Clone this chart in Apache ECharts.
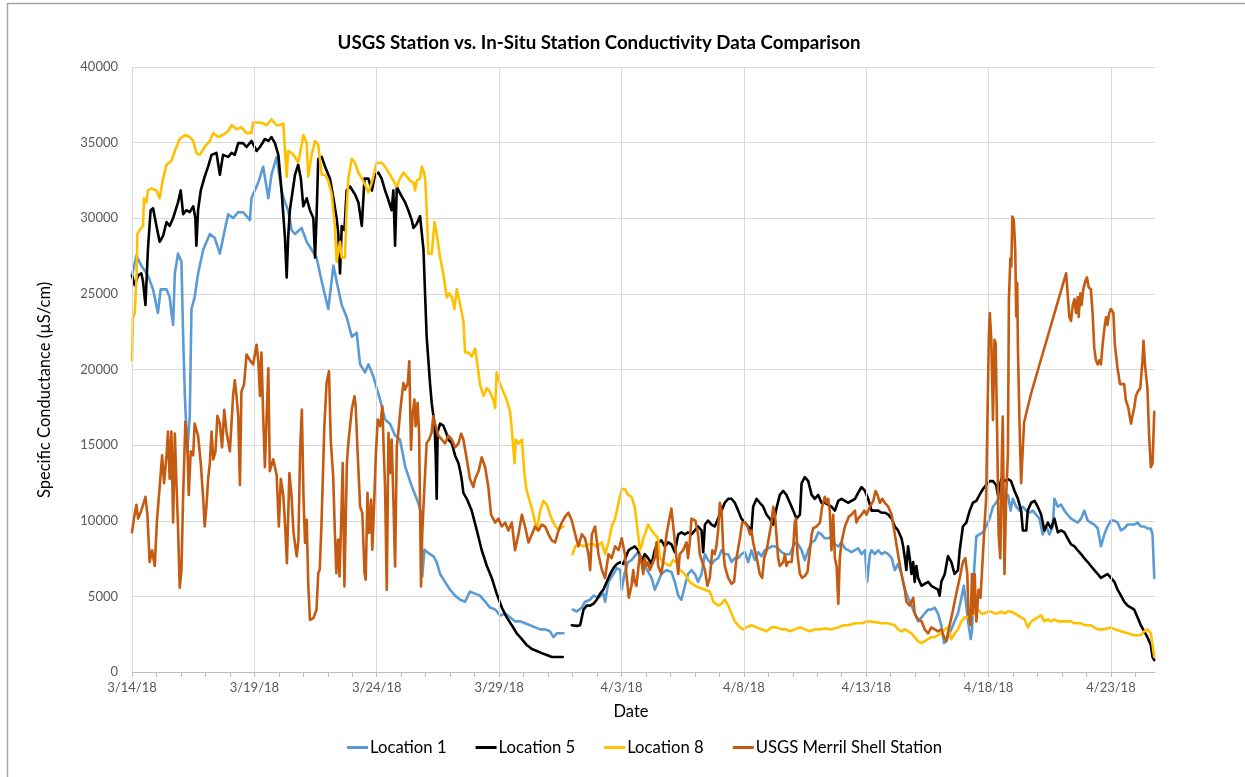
<!DOCTYPE html>
<html>
<head>
<meta charset="utf-8">
<script src="https://cdn.jsdelivr.net/npm/echarts@6/dist/echarts.min.js"></script>
<style>
html,body{margin:0;padding:0;background:#fff;}
#chart{width:1245px;height:777px;}
</style>
</head>
<body>
<div id="chart"></div>
<script>
// ---- Labels / ticks ----
const chartTitle = 'USGS Station vs. In-Situ Station Conductivity Data Comparison';
const yAxisTitle = 'Specific Conductance (\u00B5S/cm)';
const xAxisTitle = 'Date';
const seriesNames = ['Location 1', 'Location 5', 'Location 8', 'USGS Merril Shell Station'];
const seriesColors = ['#5B9BD5', '#000000', '#FFC000', '#C55A11'];
const startDate = [2018, 2, 14];            // 3/14/18 = day 0
const xGridDays = [0, 5, 10, 15, 20, 25, 30, 35, 40];
const xMaxDay = 41.8;
const yTicks = [0, 5000, 10000, 15000, 20000, 25000, 30000, 35000, 40000];

// ---- Series data: [days since 3/14/18, specific conductance uS/cm] ----
const location1 = [[0.00,26220],[0.18,27530],[0.38,26870],[0.65,26220],[0.86,25300],[1.06,23740],[1.17,25300],[1.41,25300],[1.54,24780],[1.61,23740],[1.68,22950],[1.75,26350],[1.88,27660],[2.02,27130],[2.09,22170],[2.16,18250],[2.26,14590],[2.36,16940],[2.43,24000],[2.56,24780],[2.70,26350],[2.91,27920],[3.18,28960],[3.38,28700],[3.59,27660],[3.79,29220],[3.93,30270],[4.13,30010],[4.34,30400],[4.54,30400],[4.82,29880],[4.88,31320],[5.16,32360],[5.36,33410],[5.57,31320],[5.70,32880],[5.91,34060],[6.11,31840],[6.25,31050],[6.38,30530],[6.52,29220],[6.66,28960],[6.93,29360],[7.14,28440],[7.34,27920],[7.54,27400],[7.75,25830],[8.02,24000],[8.23,26870],[8.36,25830],[8.57,24260],[8.77,23470],[8.98,22170],[9.18,22430],[9.32,20340],[9.52,19810],[9.66,20340],[9.86,19550],[10.14,17980],[10.34,16690],[10.54,16420],[10.75,15630],[10.95,15370],[11.16,13600],[11.43,12280],[11.70,11170],[11.81,10510],[11.86,6320],[11.95,8090],[12.11,7870],[12.32,7640],[12.45,7270],[12.59,6480],[12.79,5960],[13.00,5440],[13.20,5050],[13.41,4780],[13.61,4650],[13.81,5310],[14.02,5180],[14.22,5050],[14.43,4650],[14.63,4260],[14.84,4130],[15.04,3740],[15.25,3870],[15.45,3610],[15.65,3350],[15.86,3350],[16.06,3220],[16.27,3090],[16.47,2950],[16.68,2820],[16.88,2820],[17.08,2690],[17.22,2300],[17.36,2560],[17.49,2560],[17.63,2560],[17.80,null],[18.01,4130],[18.17,4000],[18.38,4260],[18.51,4650],[18.72,4780],[18.86,5050],[19.06,4910],[19.26,5180],[19.33,4650],[19.47,5960],[19.67,6480],[19.81,6870],[19.95,6740],[20.01,5440],[20.12,6480],[20.27,7270],[20.41,7400],[20.54,7660],[20.68,7920],[20.82,7530],[20.95,7010],[21.23,6220],[21.36,5440],[21.50,5960],[21.63,6480],[21.84,6740],[22.04,6610],[22.18,5960],[22.32,5050],[22.45,4780],[22.59,5700],[22.72,6480],[22.86,6740],[23.00,6480],[23.13,5960],[23.27,6480],[23.41,7790],[23.54,7400],[23.68,7140],[23.81,7400],[23.95,7530],[24.09,8050],[24.22,7790],[24.36,7790],[24.50,7270],[24.63,7530],[24.77,7530],[24.90,7790],[25.04,7920],[25.18,7270],[25.31,8050],[25.45,7400],[25.59,7920],[25.72,7660],[25.86,8050],[26.00,8180],[26.13,8310],[26.27,8310],[26.40,8180],[26.54,7920],[26.68,7790],[26.88,7790],[27.08,8570],[27.22,8440],[27.36,8050],[27.49,7400],[27.63,8050],[27.77,8570],[27.90,8700],[28.04,9230],[28.17,9100],[28.31,8840],[28.45,8840],[28.58,8970],[28.72,8440],[28.86,8310],[28.99,8570],[29.13,8180],[29.26,8050],[29.40,7920],[29.54,8050],[29.67,8180],[29.81,7790],[29.95,8050],[30.04,5960],[30.15,7790],[30.22,8050],[30.35,7790],[30.49,8050],[30.63,7790],[30.76,7920],[30.90,7790],[31.04,7530],[31.17,6740],[31.30,7140],[31.44,6480],[31.58,5440],[31.71,4910],[31.85,4390],[31.98,3870],[32.12,3350],[32.26,3610],[32.39,3870],[32.53,4130],[32.66,4130],[32.80,4260],[32.93,3870],[33.07,3090],[33.18,1910],[33.27,2040],[33.34,2300],[33.48,2820],[33.61,3350],[33.75,3870],[33.89,4910],[33.99,5700],[34.09,4390],[34.16,3350],[34.27,2170],[34.33,2820],[34.40,6480],[34.50,8970],[34.63,9100],[34.77,9230],[34.90,9620],[35.04,10140],[35.18,10930],[35.31,11190],[35.45,11580],[35.54,11970],[35.65,11450],[35.79,11710],[35.90,10670],[35.99,11450],[36.13,10930],[36.26,10670],[36.40,10930],[36.54,10670],[36.67,10530],[36.81,10670],[36.94,10400],[37.08,10140],[37.21,9100],[37.35,9620],[37.49,9100],[37.62,9620],[37.69,11450],[37.83,10930],[37.96,11060],[38.10,10670],[38.23,10400],[38.37,10140],[38.51,10010],[38.64,9880],[38.78,10140],[38.91,10670],[39.05,10010],[39.18,9880],[39.32,9750],[39.46,9490],[39.59,8310],[39.73,9100],[39.86,9620],[40.00,10010],[40.14,10010],[40.27,9880],[40.41,9360],[40.54,9490],[40.68,9750],[40.82,9750],[40.95,9750],[41.09,9880],[41.22,9620],[41.36,9620],[41.49,9490],[41.63,9490],[41.70,9100],[41.77,6220]];

const location5 = [[0.00,26220],[0.11,25570],[0.25,26220],[0.38,26350],[0.45,25830],[0.55,24260],[0.65,27920],[0.76,30530],[0.86,30660],[1.00,29490],[1.13,28440],[1.27,28830],[1.41,29750],[1.54,29490],[1.68,30010],[1.88,31050],[1.99,31840],[2.09,30270],[2.22,30530],[2.36,30400],[2.50,30790],[2.59,30010],[2.63,28180],[2.70,30530],[2.81,31840],[2.97,32750],[3.11,33410],[3.25,34190],[3.45,34320],[3.59,32880],[3.72,34190],[3.93,34060],[4.07,34320],[4.20,34190],[4.34,34970],[4.54,34970],[4.68,34710],[4.88,35110],[5.09,34450],[5.23,34710],[5.43,35240],[5.57,35110],[5.70,35370],[5.84,34970],[5.98,34190],[6.11,31840],[6.25,28700],[6.32,26090],[6.38,28700],[6.45,30530],[6.66,32880],[6.79,33540],[6.90,32620],[7.00,30790],[7.14,31320],[7.27,30530],[7.41,30010],[7.48,27400],[7.54,30010],[7.61,33930],[7.75,34060],[7.89,33410],[8.09,32620],[8.23,31320],[8.36,30010],[8.43,28960],[8.50,26350],[8.57,29490],[8.68,29220],[8.77,31840],[8.91,32100],[9.11,31580],[9.25,31050],[9.39,29490],[9.50,32620],[9.66,32620],[9.80,31840],[9.93,32880],[10.07,33010],[10.20,32620],[10.34,31840],[10.48,31190],[10.61,30530],[10.68,31840],[10.75,28180],[10.82,32100],[10.89,31840],[11.02,31450],[11.16,31050],[11.29,30530],[11.43,29880],[11.50,29360],[11.63,29620],[11.77,30140],[11.84,30270],[11.91,27920],[11.98,24780],[12.04,22170],[12.11,20600],[12.18,19030],[12.25,17720],[12.36,16420],[12.41,14320],[12.45,11450],[12.49,15890],[12.59,16420],[12.72,16290],[12.82,15890],[12.93,15370],[13.07,15110],[13.20,14320],[13.34,13800],[13.41,13280],[13.47,12760],[13.54,11840],[13.68,11450],[13.88,10670],[14.09,9360],[14.29,8050],[14.50,7010],[14.70,6220],[14.90,5180],[15.11,4260],[15.31,3610],[15.52,3090],[15.72,2560],[15.93,2170],[16.13,1780],[16.34,1520],[16.54,1390],[16.74,1250],[16.95,1120],[17.15,990],[17.36,990],[17.60,990],[17.80,null],[17.97,3090],[18.17,3050],[18.31,3090],[18.38,3610],[18.45,4130],[18.58,4390],[18.72,4390],[18.86,4520],[18.99,4780],[19.13,5180],[19.26,5440],[19.40,5960],[19.54,6480],[19.67,6870],[19.81,7140],[19.95,7270],[20.08,7140],[20.18,7600],[20.29,8050],[20.41,8180],[20.54,8310],[20.68,8050],[20.82,7270],[20.95,7790],[21.09,7530],[21.23,7140],[21.36,8050],[21.50,8570],[21.63,8700],[21.77,8310],[21.91,8570],[22.04,8440],[22.18,7920],[22.32,9100],[22.45,9230],[22.59,9100],[22.72,9230],[22.86,9100],[23.00,9360],[23.13,9620],[23.27,9360],[23.34,7920],[23.41,9750],[23.54,10010],[23.68,9750],[23.81,9620],[23.95,10140],[24.09,10670],[24.22,11190],[24.36,11450],[24.50,11450],[24.63,11190],[24.77,10670],[24.90,10140],[25.04,9880],[25.18,9620],[25.31,9360],[25.38,10930],[25.52,11450],[25.65,11190],[25.79,10930],[25.93,10400],[26.06,10140],[26.20,9750],[26.33,10800],[26.47,11710],[26.61,11970],[26.74,11710],[26.88,11190],[27.02,10670],[27.15,10140],[27.29,10400],[27.36,12490],[27.49,12890],[27.63,12620],[27.77,11710],[27.90,11450],[28.04,11710],[28.17,11190],[28.31,11190],[28.45,11060],[28.58,10930],[28.72,10670],[28.86,11320],[28.99,11450],[29.13,11320],[29.26,11190],[29.40,11320],[29.54,11450],[29.67,11840],[29.81,12230],[29.95,11970],[30.08,11450],[30.22,10670],[30.35,10670],[30.49,10670],[30.63,10530],[30.76,10530],[30.90,10400],[31.04,10140],[31.17,9620],[31.30,9360],[31.44,8840],[31.51,8310],[31.58,7530],[31.64,6740],[31.71,8310],[31.78,7530],[31.85,6480],[31.92,7270],[31.98,5960],[32.05,7010],[32.12,6220],[32.26,5700],[32.39,5830],[32.53,5960],[32.66,5700],[32.80,5570],[32.93,5440],[33.00,5050],[33.07,5960],[33.21,6480],[33.34,7660],[33.48,7270],[33.61,6480],[33.75,6740],[33.82,8050],[33.95,9620],[34.09,9880],[34.23,10670],[34.36,11190],[34.50,11320],[34.63,11710],[34.77,12100],[34.90,12360],[35.04,12620],[35.18,12620],[35.31,12360],[35.38,11710],[35.52,12760],[35.65,12620],[35.79,12760],[35.92,12620],[36.06,11970],[36.20,11450],[36.33,10670],[36.40,9360],[36.54,9360],[36.60,10670],[36.74,11190],[36.88,11320],[37.01,10930],[37.15,10400],[37.28,9360],[37.42,9880],[37.55,9490],[37.69,10140],[37.83,9230],[37.96,9360],[38.10,9230],[38.23,8840],[38.37,8440],[38.51,8310],[38.64,8050],[38.78,7790],[38.91,7530],[39.05,7270],[39.18,7010],[39.32,6740],[39.46,6480],[39.59,6220],[39.73,6350],[39.86,6480],[40.00,6220],[40.14,5960],[40.27,5440],[40.41,5050],[40.54,4650],[40.68,4390],[40.82,4260],[40.95,4130],[41.09,3610],[41.22,3090],[41.36,2690],[41.49,2300],[41.63,1780],[41.70,990],[41.77,780]];

const location8 = [[0.00,20600],[0.04,23470],[0.11,23740],[0.18,25830],[0.22,28960],[0.31,29220],[0.45,29490],[0.49,31320],[0.59,31050],[0.65,31840],[0.79,31970],[1.00,31840],[1.13,31320],[1.27,32620],[1.41,33540],[1.61,33800],[1.75,34450],[1.95,35240],[2.16,35500],[2.36,35370],[2.50,35110],[2.63,34320],[2.77,34190],[2.97,34710],[3.18,35110],[3.32,35630],[3.52,35370],[3.72,35500],[3.93,35760],[4.07,36150],[4.27,35890],[4.47,36020],[4.68,35630],[4.88,35630],[4.95,36330],[5.16,36330],[5.36,36280],[5.50,36150],[5.70,36540],[5.91,36150],[6.04,36150],[6.18,36280],[6.25,36280],[6.32,32750],[6.38,34450],[6.52,34320],[6.66,34060],[6.79,33670],[6.93,34840],[7.00,35500],[7.14,34970],[7.20,32750],[7.34,34190],[7.48,35110],[7.61,34840],[7.75,32880],[7.89,32880],[8.02,32490],[8.16,31580],[8.29,29490],[8.36,27130],[8.50,28440],[8.57,27400],[8.70,27400],[8.77,30530],[8.84,32620],[8.98,33930],[9.11,33670],[9.25,33010],[9.39,32620],[9.52,32230],[9.66,31710],[9.80,32360],[10.00,33670],[10.20,33670],[10.34,33410],[10.54,32880],[10.68,32490],[10.82,32100],[10.95,32620],[11.09,33010],[11.23,32750],[11.36,32490],[11.50,32360],[11.57,31840],[11.63,32490],[11.77,32620],[11.84,33410],[11.91,33150],[11.98,32620],[12.04,30530],[12.11,27660],[12.25,27660],[12.36,29750],[12.45,28960],[12.59,27400],[12.72,26350],[12.86,24780],[12.96,25040],[13.07,24780],[13.17,24000],[13.27,25300],[13.41,24260],[13.54,23210],[13.61,21120],[13.75,21120],[13.88,20860],[14.02,21380],[14.09,20600],[14.22,19030],[14.36,18250],[14.50,18770],[14.63,18510],[14.77,17980],[14.84,17460],[14.90,19810],[15.04,19030],[15.18,18510],[15.31,17980],[15.45,17200],[15.54,15630],[15.63,13800],[15.68,15370],[15.79,15110],[15.93,15370],[16.04,13020],[16.13,11970],[16.27,11190],[16.40,10400],[16.54,9360],[16.68,10670],[16.81,11320],[16.95,11060],[17.08,10400],[17.22,9880],[17.36,9490],[17.49,9490],[17.63,9620],[17.80,null],[18.00,7790],[18.11,8310],[18.24,8440],[18.45,8310],[18.65,8440],[18.86,8440],[18.99,8310],[19.20,8570],[19.33,7790],[19.47,8570],[19.60,9620],[19.74,10140],[19.88,11190],[20.01,12100],[20.14,12100],[20.27,11710],[20.41,11580],[20.54,10930],[20.68,9100],[20.75,8050],[20.82,8310],[20.89,8840],[20.95,9100],[21.09,9750],[21.23,9360],[21.36,9100],[21.50,8840],[21.57,7530],[21.70,7270],[21.84,7140],[21.98,7010],[22.11,7400],[22.25,7270],[22.38,6740],[22.59,6480],[22.79,5960],[23.00,5700],[23.20,5570],[23.41,5440],[23.61,5310],[23.75,4650],[23.95,4390],[24.09,4520],[24.22,4780],[24.36,4390],[24.50,3870],[24.63,3350],[24.84,2950],[24.97,2820],[25.11,2950],[25.31,3090],[25.52,2950],[25.72,2820],[25.93,2690],[26.13,2950],[26.33,2950],[26.54,2820],[26.74,2820],[26.88,2690],[27.08,2820],[27.29,2950],[27.49,2820],[27.70,2690],[27.90,2820],[28.11,2820],[28.31,2880],[28.58,2820],[28.86,2950],[29.06,3090],[29.26,3090],[29.54,3220],[29.81,3220],[30.08,3350],[30.35,3300],[30.63,3220],[30.90,3220],[31.17,3090],[31.30,2820],[31.44,2690],[31.58,2820],[31.71,2690],[31.85,2560],[31.98,2300],[32.12,2040],[32.26,1910],[32.39,2040],[32.53,2170],[32.66,2300],[32.80,2300],[32.93,2430],[33.07,2560],[33.21,2820],[33.34,2950],[33.48,2170],[33.61,2560],[33.75,2820],[33.89,3350],[34.02,3610],[34.16,3610],[34.30,3740],[34.43,3870],[34.57,4130],[34.70,3870],[34.84,3870],[34.97,4000],[35.11,4000],[35.24,3870],[35.38,3870],[35.52,4000],[35.65,3870],[35.79,4000],[35.92,4000],[36.06,3870],[36.20,3740],[36.33,3610],[36.47,3480],[36.60,2950],[36.74,3350],[36.88,3480],[37.01,3610],[37.15,3740],[37.28,3350],[37.42,3480],[37.55,3350],[37.69,3480],[37.83,3350],[38.10,3350],[38.37,3350],[38.51,3220],[38.78,3220],[38.91,3090],[39.18,3090],[39.32,2950],[39.46,2820],[39.73,2820],[40.00,2950],[40.14,2820],[40.41,2690],[40.68,2560],[40.95,2430],[41.22,2430],[41.36,2690],[41.49,2820],[41.63,2560],[41.70,1780],[41.77,990]];

const usgsMerrilShell = [[0.00,9230],[0.08,10140],[0.18,11060],[0.25,10140],[0.38,10670],[0.55,11580],[0.63,10400],[0.72,7270],[0.82,8050],[0.93,7010],[1.02,10010],[1.13,12230],[1.23,14320],[1.31,12490],[1.41,14320],[1.47,15890],[1.54,12760],[1.61,15890],[1.68,9880],[1.75,15760],[1.81,12760],[1.88,9620],[1.95,5570],[2.02,6740],[2.09,11710],[2.18,16550],[2.26,15110],[2.32,11710],[2.40,14590],[2.50,14320],[2.56,16420],[2.70,15630],[2.81,13800],[2.91,11450],[2.97,9620],[3.04,10930],[3.11,12760],[3.18,13800],[3.25,15890],[3.32,14060],[3.41,14590],[3.49,16940],[3.59,16420],[3.68,14850],[3.77,17330],[3.86,15890],[4.00,14590],[4.13,18250],[4.20,19290],[4.27,18250],[4.34,16940],[4.41,12360],[4.47,18510],[4.58,19030],[4.68,20990],[4.82,20600],[4.95,20340],[5.09,21640],[5.16,20600],[5.23,18250],[5.29,21120],[5.36,16940],[5.43,13540],[5.57,20080],[5.63,13280],[5.77,14060],[5.91,13020],[6.00,9620],[6.08,12760],[6.18,11710],[6.26,9630],[6.33,7200],[6.43,13160],[6.51,11840],[6.60,9190],[6.73,7640],[6.80,8750],[6.87,14700],[6.94,17350],[7.01,11400],[7.07,8530],[7.14,10070],[7.20,5880],[7.27,3450],[7.41,3560],[7.54,4110],[7.61,6540],[7.67,6760],[7.74,9630],[7.86,16250],[7.95,19110],[8.05,19890],[8.12,15370],[8.22,12940],[8.29,9190],[8.35,6540],[8.42,8750],[8.48,6320],[8.55,10070],[8.61,13820],[8.68,5660],[8.78,13820],[8.84,15140],[8.98,17350],[9.09,18230],[9.14,17570],[9.22,14480],[9.32,10950],[9.41,10510],[9.50,6540],[9.55,6100],[9.62,11840],[9.69,9190],[9.77,11400],[9.82,8090],[9.90,11400],[9.96,14260],[10.04,16690],[10.14,16250],[10.23,17570],[10.29,14480],[10.34,12280],[10.41,5440],[10.48,15810],[10.54,13160],[10.61,15370],[10.68,11400],[10.75,6980],[10.82,14920],[10.88,15810],[10.98,17570],[11.09,19110],[11.16,18670],[11.27,19110],[11.33,20550],[11.40,14700],[11.46,16910],[11.54,18010],[11.59,16250],[11.67,17790],[11.73,15810],[11.77,10950],[11.81,5660],[11.86,9190],[11.95,12280],[12.04,15140],[12.14,15370],[12.24,15810],[12.31,16910],[12.38,16420],[12.52,15630],[12.66,15370],[12.79,15110],[12.93,15630],[13.07,15370],[13.20,14850],[13.34,15110],[13.45,15760],[13.54,15370],[13.68,14060],[13.81,12760],[13.95,12230],[14.02,12760],[14.16,13280],[14.29,14190],[14.43,13540],[14.56,12230],[14.67,10400],[14.84,9880],[14.97,10140],[15.11,9620],[15.25,9880],[15.38,9360],[15.52,9880],[15.65,8050],[15.79,9100],[15.93,10400],[16.06,9620],[16.20,8570],[16.34,9100],[16.47,9620],[16.61,9360],[16.74,9750],[16.88,9620],[17.02,9100],[17.15,8700],[17.29,8570],[17.43,9360],[17.56,9880],[17.70,10270],[17.83,10530],[17.97,10010],[18.11,9100],[18.24,8310],[18.38,9100],[18.51,8840],[18.65,7790],[18.72,6740],[18.79,9100],[18.92,9620],[19.06,7790],[19.20,6740],[19.33,6220],[19.47,7790],[19.60,7530],[19.74,8310],[19.88,8050],[20.01,8840],[20.14,7790],[20.20,6480],[20.30,4910],[20.41,5700],[20.48,6740],[20.54,5960],[20.61,5700],[20.68,6740],[20.75,7790],[20.82,7270],[20.89,6480],[20.95,7530],[21.02,7010],[21.09,7270],[21.16,6740],[21.23,7010],[21.36,7530],[21.43,8570],[21.50,7010],[21.63,6480],[21.77,8050],[21.84,9100],[21.93,9880],[22.04,10800],[22.15,9100],[22.25,7530],[22.32,6480],[22.38,7790],[22.52,8050],[22.66,8570],[22.72,7530],[22.79,8570],[22.86,10140],[22.93,10270],[23.02,10010],[23.13,9100],[23.20,7790],[23.30,7270],[23.41,6740],[23.51,5700],[23.61,6220],[23.71,8050],[23.81,7790],[23.88,8310],[23.95,9360],[24.02,11190],[24.09,10670],[24.16,8050],[24.22,7010],[24.36,6220],[24.50,5830],[24.60,5960],[24.70,7530],[24.84,8840],[24.93,9880],[25.04,9880],[25.15,9620],[25.25,9100],[25.31,9360],[25.38,8570],[25.45,8050],[25.56,7270],[25.65,6480],[25.75,6220],[25.83,7530],[25.93,8050],[26.02,8840],[26.13,9880],[26.20,10930],[26.27,10400],[26.33,9100],[26.40,7530],[26.47,7010],[26.61,7270],[26.68,7790],[26.74,7010],[26.81,7270],[26.95,7270],[27.02,8310],[27.08,9880],[27.13,10140],[27.19,7790],[27.29,6480],[27.38,6220],[27.49,6350],[27.60,6610],[27.70,8050],[27.77,9100],[27.83,9490],[27.97,9620],[28.11,9880],[28.20,10930],[28.31,11580],[28.38,11190],[28.45,11450],[28.51,10670],[28.58,8050],[28.65,10400],[28.72,7530],[28.79,7010],[28.86,4520],[28.92,7530],[28.99,8570],[29.06,9100],[29.13,9620],[29.20,9750],[29.29,10270],[29.40,10400],[29.54,10670],[29.60,9880],[29.67,10140],[29.81,10400],[29.92,10670],[30.01,10400],[30.15,10930],[30.29,11320],[30.38,11970],[30.46,11710],[30.56,11190],[30.65,11450],[30.76,11190],[30.90,10930],[31.04,10400],[31.17,9100],[31.30,7790],[31.44,6480],[31.58,5440],[31.64,4650],[31.78,4390],[31.92,4910],[31.98,3870],[32.12,3480],[32.26,3350],[32.39,2820],[32.53,2560],[32.66,2950],[32.80,2820],[32.93,2690],[33.07,2820],[33.18,2300],[33.27,2040],[33.41,3090],[33.55,4130],[33.68,5180],[33.82,6220],[33.95,7270],[34.05,7530],[34.13,6480],[34.18,3870],[34.27,3090],[34.32,6480],[34.36,3870],[34.43,6480],[34.50,3350],[34.59,5440],[34.67,4910],[34.77,7790],[34.84,9880],[34.90,11450],[34.95,11400],[35.01,22170],[35.05,23740],[35.11,21960],[35.18,16670],[35.24,21960],[35.29,21740],[35.35,15790],[35.41,9100],[35.48,7530],[35.54,14060],[35.58,16890],[35.65,6480],[35.72,11710],[35.79,14320],[35.83,24600],[35.89,27360],[35.93,26810],[35.97,30110],[36.03,29890],[36.09,27910],[36.13,23500],[36.17,25710],[36.20,21300],[36.27,16010],[36.33,12480],[36.40,12590],[36.45,16500],[36.74,18430],[38.17,26370],[38.21,26350],[38.30,23470],[38.37,23210],[38.44,24260],[38.51,24650],[38.57,23740],[38.64,24780],[38.68,23470],[38.75,25040],[38.80,24260],[38.87,25300],[38.95,25830],[39.02,26090],[39.09,25430],[39.18,25300],[39.25,23740],[39.32,21380],[39.39,20600],[39.46,20340],[39.52,20600],[39.59,20340],[39.66,21640],[39.73,22690],[39.80,23470],[39.86,22950],[39.93,23740],[40.00,24000],[40.10,23740],[40.16,21640],[40.27,20080],[40.37,19030],[40.43,19030],[40.54,19030],[40.61,17980],[40.71,17460],[40.82,16420],[40.88,16940],[40.95,17460],[41.02,18250],[41.09,18510],[41.20,18770],[41.25,19810],[41.29,20600],[41.33,21900],[41.39,20340],[41.44,19550],[41.49,18770],[41.56,15630],[41.63,13540],[41.70,13800],[41.77,17200]];

const seriesData = [location1, location5, location8, usgsMerrilShell];

// ---- Rendering ----
const FONT = 'Lato, "Noto Sans", "DejaVu Sans", sans-serif';
function dayLabel(v) {
  if (Math.abs(v - Math.round(v)) > 1e-6 || Math.round(v) % 5 !== 0) return '';
  const d = new Date(startDate[0], startDate[1], startDate[2] + Math.round(v));
  return (d.getMonth() + 1) + '/' + d.getDate() + '/' + String(d.getFullYear()).slice(2);
}

const chart = echarts.init(document.getElementById('chart'), null, {renderer: 'canvas'});

const series = [{
  type: 'line', name: '_grid', data: [], silent: true, z: 1,
  markLine: {
    silent: true, symbol: ['none', 'none'], animation: false,
    label: {show: false},
    lineStyle: {color: '#d9d9d9', width: 1, type: 'solid'},
    emphasis: {disabled: true},
    data: xGridDays.map(d => ({xAxis: d}))
  }
}];
seriesNames.forEach((n, i) => {
  series.push({
    type: 'line', name: n, data: seriesData[i],
    showSymbol: false, symbol: 'none', connectNulls: false, smooth: false,
    z: 2 + i,
    lineStyle: {color: seriesColors[i], width: 2.6, join: 'round', cap: 'round'},
    itemStyle: {color: seriesColors[i]},
    emphasis: {disabled: true}
  });
});

chart.setOption({
  animation: false,
  backgroundColor: '#ffffff',
  textStyle: {fontFamily: FONT},
  grid: {left: 132, right: 90, top: 67, bottom: 105, containLabel: false},
  xAxis: {
    type: 'value', min: 0, max: xMaxDay, interval: 1,
    axisLine: {show: true, lineStyle: {color: '#bfbfbf', width: 1}},
    axisTick: {show: true, inside: false, length: 5, lineStyle: {color: '#bfbfbf', width: 1}},
    axisLabel: {formatter: dayLabel, color: '#595959', fontSize: 13, fontFamily: FONT, margin: 9, showMaxLabel: false},
    splitLine: {show: false}
  },
  yAxis: {
    type: 'value', min: yTicks[0], max: yTicks[yTicks.length - 1], interval: yTicks[1] - yTicks[0],
    axisLine: {show: true, lineStyle: {color: '#d9d9d9', width: 1}},
    axisTick: {show: false},
    axisLabel: {color: '#595959', fontSize: 13, fontFamily: FONT, margin: 14, formatter: v => String(v)},
    splitLine: {show: true, lineStyle: {color: '#d9d9d9', width: 1}}
  },
  legend: {
    data: seriesNames,
    left: 347, top: 739, padding: 0,
    icon: 'rect',
    itemWidth: 21, itemHeight: 3, itemGap: 29,
    textStyle: {color: '#000', fontSize: 16.7, fontFamily: FONT, padding: [0, 0, 0, -3]},
    selectedMode: false
  },
  graphic: [
    {type: 'text', x: 599, y: 43, silent: true,
     style: {text: chartTitle, fill: '#000', font: 'bold 18.7px ' + FONT, align: 'center', verticalAlign: 'middle'}},
    {type: 'text', x: 45, y: 390, rotation: Math.PI / 2, silent: true,
     style: {text: yAxisTitle, fill: '#000', font: '16.5px ' + FONT, align: 'center', verticalAlign: 'middle'}},
    {type: 'text', x: 631, y: 712, silent: true,
     style: {text: xAxisTitle, fill: '#000', font: '16.5px ' + FONT, align: 'center', verticalAlign: 'middle'}},
    {type: 'polyline', silent: true,
     shape: {points: [[7.5, 777], [7.5, 3.5], [1245, 3.5]]},
     style: {stroke: '#a6a6a6', lineWidth: 1.5, fill: null}}
  ],
  series: series
});
</script>
</body>
</html>
